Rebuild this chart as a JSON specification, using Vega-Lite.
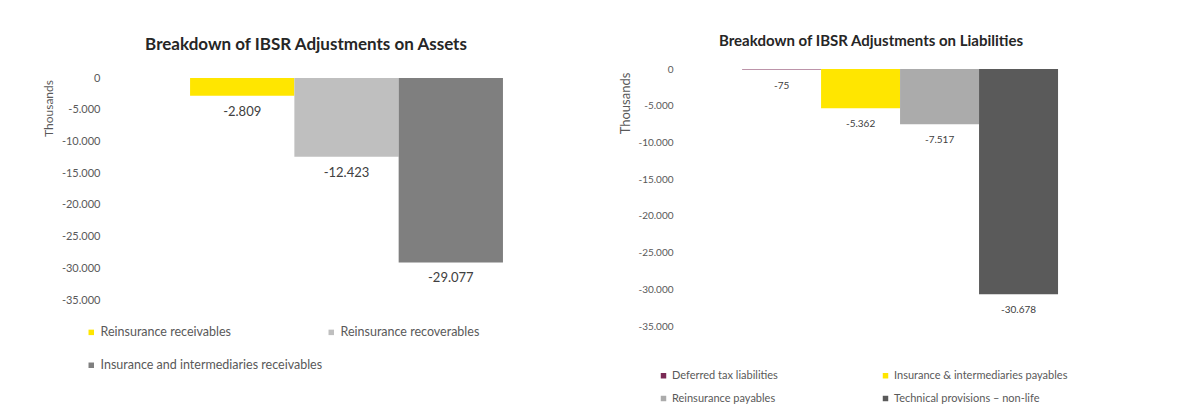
{
  "$schema": "https://vega.github.io/schema/vega-lite/v6.json",
  "padding": {"left": 42, "top": 34, "right": 0, "bottom": 0},
  "autosize": {"type": "pad"},
  "background": "white",
  "spacing": 175,
  "bounds": "flush",
  "config": {
    "locale": {"number": {"decimal": ",", "thousands": ".", "grouping": [3], "currency": ["", "€"], "minus": "-"}},
    "view": {"stroke": null},
    "font": "Lato",
    "axis": {"labelFont": "Lato", "labelColor": "#595959", "titleColor": "#595959", "titleFont": "Lato", "titleFontWeight": "normal"},
    "legend": {"labelFont": "Lato", "labelColor": "#595959"},
    "title": {"font": "Lato", "fontWeight": "bold", "color": "#262626", "anchor": "middle"}
  },
  "datasets": {
    "assets": [
      {"item": "Reinsurance receivables", "value": -2809},
      {"item": "Reinsurance recoverables", "value": -12423},
      {"item": "Insurance and intermediaries receivables", "value": -29077}
    ],
    "liabilities": [
      {"item": "Deferred tax liabilities", "value": -75},
      {"item": "Insurance & intermediaries payables", "value": -5362},
      {"item": "Reinsurance payables", "value": -7517},
      {"item": "Technical provisions – non-life", "value": -30678}
    ]
  },
  "hconcat": [
    {
      "data": {"name": "assets"},
      "width": 398,
      "height": 231,
      "title": {"text": "Breakdown of IBSR Adjustments on Assets", "fontSize": 17, "offset": 15},
      "encoding": {
        "x": {"field": "item", "type": "nominal", "axis": null,
              "sort": ["Reinsurance receivables", "Reinsurance recoverables", "Insurance and intermediaries receivables"],
              "scale": {"paddingInner": 0, "paddingOuter": 0.408, "align": 0.976}},
        "y": {"field": "value", "type": "quantitative",
              "scale": {"domain": [-35000, 1419], "nice": false, "zero": false},
              "axis": {"title": "Thousands", "values": [0, -5000, -10000, -15000, -20000, -25000, -30000, -35000],
                       "format": ",.0f", "domain": false, "ticks": false, "grid": false, "labelFontSize": 11, "labelPadding": 7,
                       "titleFontSize": 12, "titleX": -59, "titleY": 39, "titleAngle": -90, "titleAlign": "center", "titleBaseline": "middle"}}
      },
      "layer": [
        {
          "mark": {"type": "bar"},
          "encoding": {
            "y2": {"datum": 0},
            "color": {"field": "item", "type": "nominal",
                      "scale": {"domain": ["Reinsurance receivables", "Reinsurance recoverables", "Insurance and intermediaries receivables"],
                                "range": ["#FFE600", "#BFBFBF", "#7F7F7F"]},
                      "legend": {"title": null, "orient": "none", "direction": "horizontal", "legendX": -22, "legendY": 257, "columns": 2,
                                 "columnPadding": 2, "rowPadding": 20, "labelFontSize": 12.5, "labelLimit": 400, "symbolType": "square",
                                 "symbolSize": 30, "symbolStrokeWidth": 0, "labelOffset": 3}}
          }
        },
        {
          "mark": {"type": "text", "baseline": "middle", "dy": 16, "fontSize": 13, "color": "#404040"},
          "encoding": {"text": {"field": "value", "type": "quantitative", "format": ",.0f"}}
        }
      ]
    },
    {
      "data": {"name": "liabilities"},
      "width": 382,
      "height": 257,
      "title": {"text": "Breakdown of IBSR Adjustments on Liabilities", "fontSize": 15, "offset": 15},
      "encoding": {
        "x": {"field": "item", "type": "nominal", "axis": null,
              "sort": ["Deferred tax liabilities", "Insurance & intermediaries payables", "Reinsurance payables", "Technical provisions – non-life"],
              "scale": {"paddingInner": 0, "paddingOuter": 0.418, "align": 0.94}},
        "y": {"field": "value", "type": "quantitative",
              "scale": {"domain": [-35000, 0], "nice": false, "zero": false},
              "axis": {"title": "Thousands", "values": [0, -5000, -10000, -15000, -20000, -25000, -30000, -35000],
                       "format": ",.0f", "domain": false, "ticks": false, "grid": false, "labelFontSize": 10, "labelPadding": 7,
                       "titleFontSize": 13, "titleX": -55, "titleY": 34, "titleAngle": -90, "titleAlign": "center", "titleBaseline": "middle"}}
      },
      "layer": [
        {
          "mark": {"type": "bar"},
          "encoding": {
            "y2": {"datum": 0},
            "color": {"field": "item", "type": "nominal",
                      "scale": {"domain": ["Deferred tax liabilities", "Insurance & intermediaries payables", "Reinsurance payables", "Technical provisions – non-life"],
                                "range": ["#7A2A55", "#FFE600", "#ABABAB", "#5A5A5A"]},
                      "legend": {"title": null, "orient": "none", "direction": "horizontal", "legendX": -22, "legendY": 301, "columns": 2,
                                 "columnPadding": 102, "rowPadding": 11, "labelFontSize": 11, "labelLimit": 400, "symbolType": "square",
                                 "symbolSize": 30, "symbolStrokeWidth": 0, "labelOffset": 3}}
          }
        },
        {
          "mark": {"type": "text", "baseline": "middle", "dy": 16, "fontSize": 10, "color": "#404040"},
          "encoding": {"text": {"field": "value", "type": "quantitative", "format": ",.0f"}}
        }
      ]
    }
  ],
  "resolve": {"scale": {"color": "independent", "y": "independent", "x": "independent"}, "legend": {"color": "independent"}}
}
